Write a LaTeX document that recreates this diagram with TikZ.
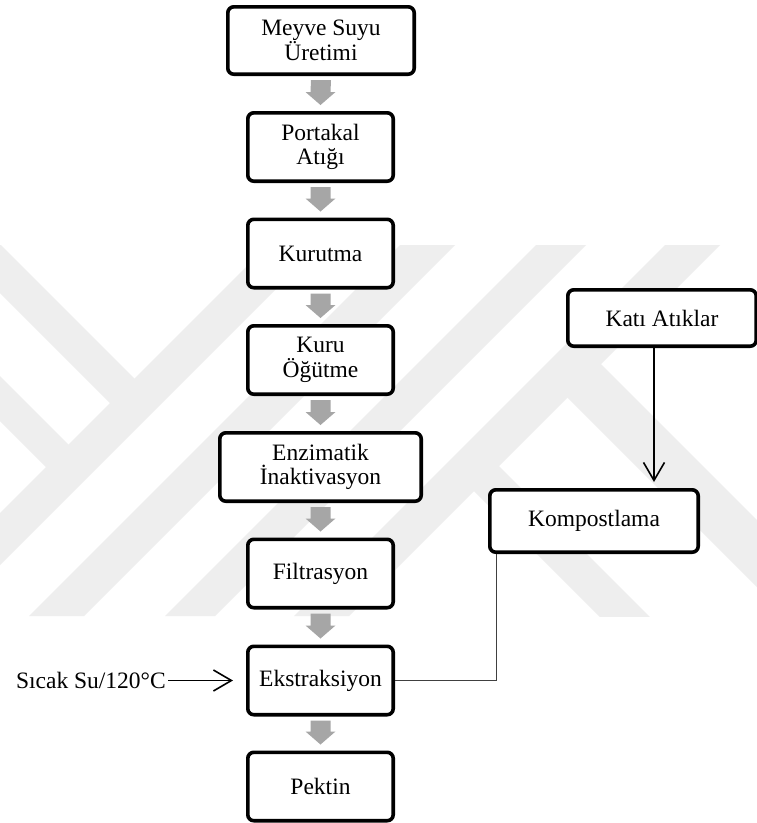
\documentclass[tikz,border=0pt]{standalone}
\usepackage{fontspec}
\setmainfont{Liberation Serif}
\usetikzlibrary{calc,arrows.meta}
\definecolor{wmgray}{HTML}{EEEEEE}
\definecolor{arrgray}{HTML}{A6A6A6}
\definecolor{conngray}{HTML}{404040}
\newcommand{\grayarr}[2]{%
  \fill[garrow] ($(#1.south)+(-10,4)$) -- ($(#1.south)+(10,4)$)
    -- ($(#2.north)+(10,-19)$) -- ($(#2.north)+(15,-19)$)
    -- ($(#2.north)+(0,-6)$) -- ($(#2.north)+(-15,-19)$)
    -- ($(#2.north)+(-10,-19)$) -- cycle;}
\begin{document}
\begin{tikzpicture}[x=1pt,y=-1pt,
  box/.style={draw=black, line width=3.6pt, rounded corners=6pt, fill=white,
    align=center, inner sep=0pt, minimum height=68.4pt, minimum width=145.4pt,
    font=\fontsize{23.5}{24.5}\selectfont},
  garrow/.style={fill=arrgray},
  wm/.style={fill=wmgray},
  thinarrow/.style={line width=1.6pt, -{Straight Barb[length=18pt,width=21pt,line width=1.6pt]}},
  conn/.style={draw=conngray, line width=0.9pt}]
\useasboundingbox (0,0) rectangle (757,823);
\fill[white] (0,0) rectangle (757,823);
% watermark
\begin{scope}
  \clip (0,245) rectangle (757,616);
  \fill[wm] (268,245) -- (320,245) -- (-51,616) -- (-103,616) -- cycle;
  \fill[wm] (400,245) -- (455,245) -- (84,616) -- (29,616) -- cycle;
  \fill[wm] (536,245) -- (586,245) -- (215,616) -- (165,616) -- cycle;
  \fill[wm] (665,245) -- (720,245) -- (349,616) -- (294,616) -- cycle;
  \fill[wm] (0,244) -- (143,387) -- (118.5,411.5) -- (0,293) -- cycle;
  \fill[wm] (0,376) -- (74.5,450.5) -- (52,473) -- (0,421) -- cycle;
  \fill[wm] (596,359) -- (900,663) -- (900,730) -- (562.5,392.5) -- cycle;
  \fill[wm] (494,461) -- (800,767) -- (800,817) -- (469,486) -- cycle;
\end{scope}
% main column
\node[box, minimum width=186.4pt, minimum height=67.4pt] (meyve) at (321,40.5) {Meyve Suyu\\Üretimi};
\node[box] (portakal) at (320.5,147) {Portakal\\Atığı};
\node[box] (kurutma) at (320.5,253.5) {Kurutma};
\node[box] (kuru) at (320.5,360) {Kuru\\Öğütme};
\node[box, minimum width=201.4pt] (enzim) at (320.5,467) {Enzimatik\\İnaktivasyon};
\node[box] (filt) at (320.5,573.5) {Filtrasyon};
\node[box] (ekst) at (320.5,680.5) {Ekstraksiyon};
\node[box] (pektin) at (320.5,786.5) {Pektin};
% side boxes
\node[box, minimum width=188.4pt, minimum height=56.4pt] (kati) at (662,318) {Katı Atıklar};
\node[box, minimum width=208.4pt, minimum height=62.4pt] (komp) at (594,521) {Kompostlama};
% input label
\node[anchor=east, inner sep=0pt, font=\fontsize{23.5}{24.5}\selectfont] (sicak) at (166,680.5) {Sıcak Su/120°C};
% gray block arrows
\grayarr{meyve}{portakal}
\grayarr{portakal}{kurutma}
\grayarr{kurutma}{kuru}
\grayarr{kuru}{enzim}
\grayarr{enzim}{filt}
\grayarr{filt}{ekst}
\grayarr{ekst}{pektin}
% connectors
\draw[thinarrow, shorten <=2pt, shorten >=13pt] (sicak.east) -- (ekst.west);
\coordinate (k1) at ($(kati.south)+(-8,0)$);
\draw[thinarrow, shorten >=6pt] (k1) -- (k1 |- komp.north);
\coordinate (kc) at ($(komp.south west)+(8,0)$);
\draw[conn] (ekst.east) -| (kc);
\end{tikzpicture}
\end{document}
